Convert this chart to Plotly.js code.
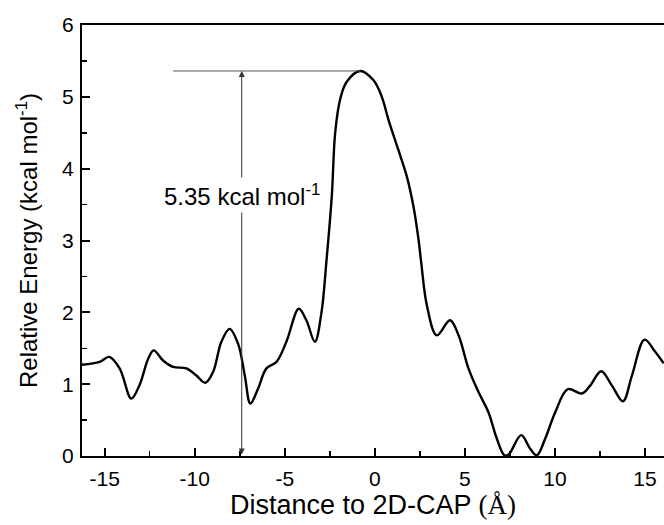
<!DOCTYPE html>
<html>
<head>
<meta charset="utf-8">
<script src="https://cdn.plot.ly/plotly-3.0.1.min.js"></script>
<style>html,body{margin:0;padding:0;background:#fff;}#chart{width:664px;height:525px;}</style>
</head>
<body>
<div id="chart"></div>
<script>
const distance = [-16.26,-15.28,-14.75,-14.17,-13.52,-13.06,-12.59,-12.28,-11.76,-11.2,-10.46,-9.91,-9.41,-8.98,-8.52,-8.06,-7.59,-7.22,-6.91,-6.48,-6.02,-5.46,-4.91,-4.22,-3.8,-3.33,-2.96,-2.69,-2.39,-2.2,-1.93,-1.56,-0.81,-0.07,0.39,0.76,1.31,1.78,2.15,2.43,2.57,2.89,3.44,4.18,4.65,5.2,5.76,6.31,6.78,7.2,7.43,8.13,8.63,9.0,9.46,10.02,10.72,11.5,11.96,12.57,13.17,13.78,14.28,14.98,15.57,16.04];
const energy = [1.27,1.31,1.38,1.22,0.80,0.99,1.35,1.47,1.33,1.24,1.22,1.12,1.02,1.17,1.59,1.77,1.56,1.12,0.73,0.94,1.22,1.31,1.59,2.05,1.89,1.59,2.0,2.70,3.61,4.5,4.96,5.21,5.36,5.23,5.0,4.68,4.26,3.89,3.47,3.01,2.71,2.10,1.68,1.89,1.68,1.22,0.89,0.61,0.24,0.01,0.02,0.29,0.10,0.01,0.24,0.61,0.93,0.87,0.98,1.18,0.98,0.76,1.12,1.62,1.45,1.29];
const xTickVals = [-15,-10,-5,0,5,10,15];
const xTickText = ['-15','-10','-5','0','5','10','15'];
const yTickVals = [0,1,2,3,4,5,6];
const yTickText = ['0','1','2','3','4','5','6'];
const barrierX = -7.39;
const barrierTop = 5.36;
const barrierLabelY = 3.63;
const refLineX = [-11.2, -0.8];
const barrierText = '5.35 kcal mol<sup>-1</sup>';
const xTitle = 'Distance to 2D-CAP <span style="font-family:\'Liberation Serif\',\'Times New Roman\',serif">(Å)</span>';
const yTitle = 'Relative Energy (kcal mol<sup>-1</sup>)';

const trace = {
  x: distance, y: energy, type: 'scatter', mode: 'lines',
  line: {color: '#000', width: 2.4, shape: 'spline', smoothing: 1.0},
  hoverinfo: 'skip', showlegend: false
};

const FONT = 'Arial, "Liberation Sans", sans-serif';
const layout = {
  width: 664, height: 525,
  margin: {l: 82, r: 0, t: 25, b: 69},
  paper_bgcolor: '#fff', plot_bgcolor: '#fff',
  font: {family: FONT, color: '#000'},
  xaxis: {
    range: [-16.26, 16.06], tickmode: 'array', tickvals: xTickVals, ticktext: xTickText,
    ticks: 'inside', ticklen: 8, tickwidth: 2, tickcolor: '#000',
    minor: {ticks: 'inside', ticklen: 5, tickwidth: 1.5, dtick: 2.5, tick0: 0, tickcolor: '#000', showgrid: false},
    showline: true, linecolor: '#000', linewidth: 2, mirror: true,
    showgrid: false, zeroline: false,
    ticklabelstandoff: 3,
    tickfont: {size: 21, family: FONT},
    title: {text: xTitle, font: {size: 27, family: FONT}, standoff: 4}
  },
  yaxis: {
    range: [0, 6], tickmode: 'array', tickvals: yTickVals, ticktext: yTickText,
    ticks: 'inside', ticklen: 8, tickwidth: 2, tickcolor: '#000',
    minor: {ticks: 'inside', ticklen: 5, tickwidth: 1.5, dtick: 0.5, tick0: 0, tickcolor: '#000', showgrid: false},
    showline: true, linecolor: '#000', linewidth: 2, mirror: true,
    showgrid: false, zeroline: false,
    ticklabelstandoff: 2,
    tickfont: {size: 21, family: FONT},
    title: {text: yTitle, font: {size: 24, family: FONT}, standoff: 18}
  },
  shapes: [
    {type: 'line', xref: 'x', yref: 'y', x0: refLineX[0], x1: refLineX[1], y0: barrierTop, y1: barrierTop,
     line: {color: '#555', width: 1}}
  ],
  annotations: [
    {xref: 'x', yref: 'y', axref: 'x', ayref: 'y', x: barrierX, y: barrierTop, ax: barrierX, ay: 0,
     showarrow: true, arrowhead: 2, arrowside: 'end+start', arrowsize: 1.2, arrowwidth: 1, arrowcolor: '#333', text: ''},
    {xref: 'x', yref: 'y', x: barrierX, y: barrierLabelY, text: barrierText, showarrow: false,
     bgcolor: '#fff', font: {size: 24, color: '#000', family: FONT}, borderpad: 2}
  ]
};

Plotly.newPlot('chart', [trace], layout, {staticPlot: true, displayModeBar: false});
</script>
</body>
</html>
